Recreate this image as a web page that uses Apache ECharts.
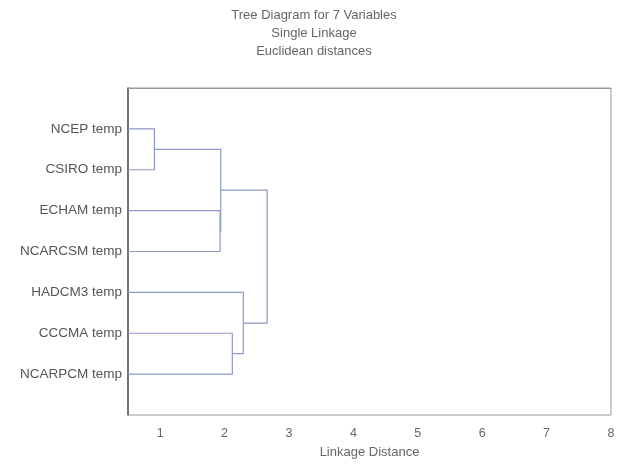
<!DOCTYPE html>
<html>
<head>
<meta charset="utf-8">
<script src="https://cdn.jsdelivr.net/npm/echarts@6/dist/echarts.min.js"></script>
<style>
html,body{margin:0;padding:0;background:#fff;}
#chart{width:628px;height:469px;}
</style>
</head>
<body>
<div id="chart"></div>
<script>
// Leaf variables, top to bottom
var variables = ['NCEP temp','CSIRO temp','ECHAM temp','NCARCSM temp','HADCM3 temp','CCCMA temp','NCARPCM temp'];
// Merge steps: [childA, childB, linkage distance]; children 0-6 are leaves, 7+ are earlier merges
var mergeA = [0, 2, 7, 5, 4, 9];
var mergeB = [1, 3, 8, 6, 10, 11];
var mergeDist = [0.91, 1.93, 1.94, 2.12, 2.29, 2.66];
var xTicks = [1, 2, 3, 4, 5, 6, 7, 8];
var titleLines = ['Tree Diagram for 7 Variables', 'Single Linkage', 'Euclidean distances'];

var X_MIN = 0.5;
// node positions (x = distance, y = row)
var nodeX = [], nodeY = [];
variables.forEach(function(v, i){ nodeX.push(X_MIN); nodeY.push(i + 1); });
mergeDist.forEach(function(d, k){
  var a = mergeA[k], b = mergeB[k];
  nodeX.push(d);
  nodeY.push((nodeY[a] + nodeY[b]) / 2);
});
var seriesData = mergeDist.map(function(d, k){ return [d, nodeY[7 + k], k]; });

var FONT = 'Liberation Sans, Arial, sans-serif';
var chart = echarts.init(document.getElementById('chart'));
chart.setOption({
  animation: false,
  backgroundColor: '#fff',
  title: {
    text: titleLines.join('\n'),
    left: 'center',
    top: 1,
    textStyle: { fontFamily: FONT, fontSize: 13, fontWeight: 'normal', color: '#666', lineHeight: 18 }
  },
  grid: { left: 128, right: 17, top: 88, bottom: 54, show: true, borderColor: '#999', borderWidth: 1 },
  xAxis: {
    type: 'value', min: X_MIN, max: 8,
    name: 'Linkage Distance', nameLocation: 'middle', nameGap: 31,
    nameTextStyle: { fontFamily: FONT, fontSize: 13, color: '#666' },
    axisLine: { show: true, lineStyle: { color: '#999' } },
    axisTick: { show: false },
    axisLabel: { customValues: xTicks, fontFamily: FONT, fontSize: 12.5, color: '#666', margin: 12 },
    splitLine: { show: false }
  },
  yAxis: {
    type: 'value', min: 0, max: 8, inverse: true,
    axisLine: { show: true, lineStyle: { color: '#555', width: 1.5 } },
    axisTick: { show: false },
    axisLabel: {
      customValues: variables.map(function(v, i){ return i + 1; }),
      formatter: function(val){ return variables[Math.round(val) - 1] || ''; },
      fontFamily: FONT, fontSize: 13.5, color: '#555', margin: 6
    },
    splitLine: { show: false }
  },
  series: [{
    type: 'custom',
    coordinateSystem: 'cartesian2d',
    encode: { x: 0, y: 1 },
    data: seriesData,
    renderItem: function(params, api){
      var k = api.value(2);
      var a = mergeA[k], b = mergeB[k], d = mergeDist[k];
      var p1 = api.coord([nodeX[a], nodeY[a]]);
      var p2 = api.coord([d, nodeY[a]]);
      var p3 = api.coord([d, nodeY[b]]);
      var p4 = api.coord([nodeX[b], nodeY[b]]);
      return {
        type: 'polyline',
        shape: { points: [p1, p2, p3, p4] },
        style: { stroke: '#8c98c8', lineWidth: 1.2, fill: null }
      };
    }
  }]
});
</script>
</body>
</html>
